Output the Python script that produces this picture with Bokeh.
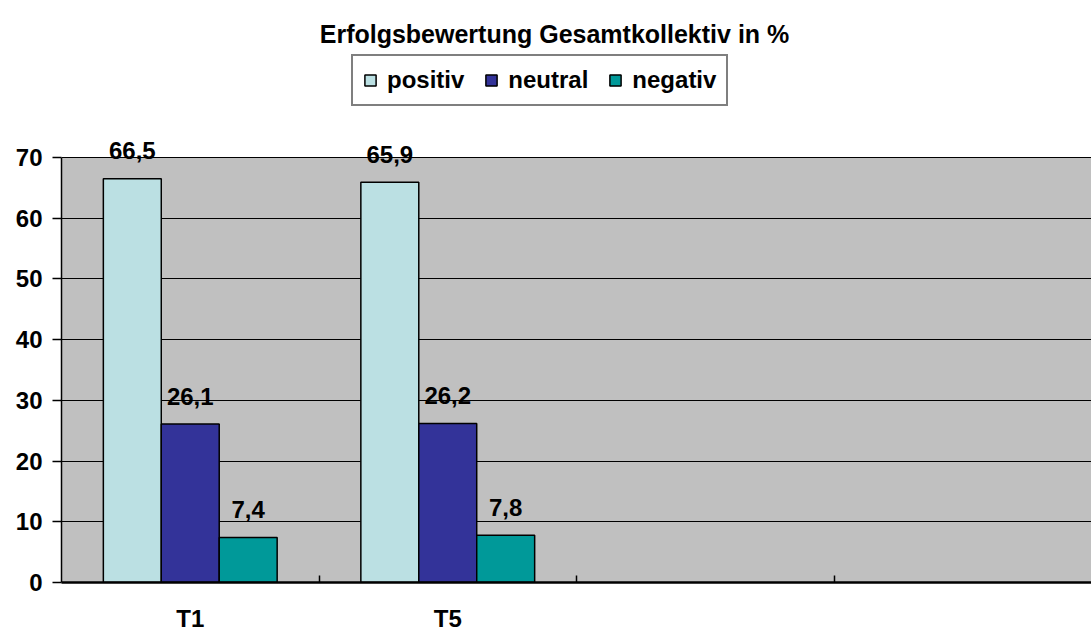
from bokeh.plotting import figure
from bokeh.models import (ColumnDataSource, FixedTicker, Legend, LegendItem, Range1d, Label,
                          BoxAnnotation)
from bokeh.layouts import column
from bokeh.transform import dodge
from bokeh.core.properties import value
from bokeh.embed import file_html
from bokeh.resources import INLINE

categories = ["T1", "T5"]
positiv = [66.5, 65.9]
neutral = [26.1, 26.2]
negativ = [7.4, 7.8]
series_names = ["positiv", "neutral", "negativ"]
colors = ["#BBE0E3", "#333399", "#009999"]
y_ticks = [0, 10, 20, 30, 40, 50, 60, 70]
y_max = 70
n_slots = 4
title_text = "Erfolgsbewertung Gesamtkollektiv in %"

FONT = "Liberation Sans"
FS = "24px"

# layout constants (pixels)
W, H = 1091, 634
HEADER_H = 120
FRAME_LEFT = 61
FRAME_TOP = 157      # y of value 70 on page
FRAME_BOTTOM = 583   # y of value 0 on page
px_per_unit = (FRAME_BOTTOM - FRAME_TOP) / y_max
y_end = y_max + (FRAME_TOP - HEADER_H) / px_per_unit

xs = [i + 0.5 for i in range(len(categories))]
src = ColumnDataSource(dict(
    x=xs,
    positiv=positiv, neutral=neutral, negativ=negativ,
    positiv_lbl=[f"{v:.1f}".replace(".", ",") for v in positiv],
    neutral_lbl=[f"{v:.1f}".replace(".", ",") for v in neutral],
    negativ_lbl=[f"{v:.1f}".replace(".", ",") for v in negativ],
))

# ---------- main chart ----------
p = figure(width=W, height=H - HEADER_H, output_backend="svg", toolbar_location=None,
           x_range=Range1d(0, n_slots), y_range=Range1d(0, y_end),
           min_border_left=FRAME_LEFT, min_border_right=0, min_border_top=0,
           min_border_bottom=H - FRAME_BOTTOM)
p.background_fill_color = "white"
p.border_fill_color = "white"
p.outline_line_color = None
p.add_layout(BoxAnnotation(bottom=0, top=y_max, fill_color="#C0C0C0", fill_alpha=1,
                           line_color=None, level="image"))

bw = 0.225
offsets = [-bw, 0.0, bw]
for name, col, off in zip(series_names, colors, offsets):
    p.vbar(x=dodge("x", off, range=p.x_range), top=name, width=bw, source=src,
           fill_color=col, line_color="black", line_width=1.5)
    p.text(x=dodge("x", off, range=p.x_range), y=name, text=name + "_lbl", source=src,
           text_font=value(FONT), text_font_style="bold", text_font_size=FS,
           text_align="center", text_baseline="alphabetic", y_offset=-28, text_color="black")

p.xgrid.grid_line_color = None
p.ygrid.grid_line_color = "black"
p.ygrid.grid_line_width = 1
p.ygrid.ticker = FixedTicker(ticks=y_ticks)

p.yaxis.ticker = FixedTicker(ticks=y_ticks)
p.yaxis.bounds = (0, y_max)
p.yaxis.axis_line_color = "black"
p.yaxis.axis_line_width = 1.5
p.yaxis.major_tick_out = 9
p.yaxis.major_tick_in = 0
p.yaxis.major_tick_line_width = 1.5
p.yaxis.minor_tick_line_color = None
p.yaxis.major_label_text_font = FONT
p.yaxis.major_label_text_font_style = "bold"
p.yaxis.major_label_text_font_size = FS
p.yaxis.major_label_text_color = "black"
p.yaxis.major_label_standoff = 10

p.xaxis.ticker = FixedTicker(ticks=xs, minor_ticks=[1, 2, 3])
p.xaxis.major_label_overrides = {x: c for x, c in zip(xs, categories)}
p.xaxis.major_tick_line_color = None
p.xaxis.major_tick_out = 0
p.xaxis.major_tick_in = 0
p.xaxis.minor_tick_in = 7
p.xaxis.minor_tick_out = 0
p.xaxis.minor_tick_line_width = 1.5
p.xaxis.minor_tick_line_color = "black"
p.xaxis.axis_line_color = "black"
p.xaxis.axis_line_width = 2.5
p.xaxis.major_label_text_font = FONT
p.xaxis.major_label_text_font_style = "bold"
p.xaxis.major_label_text_font_size = FS
p.xaxis.major_label_text_color = "black"
p.xaxis.major_label_standoff = 22

# ---------- header with title and legend ----------
h = figure(width=W, height=HEADER_H, output_backend="svg", toolbar_location=None,
           x_range=Range1d(FRAME_LEFT, W), y_range=Range1d(HEADER_H, 0),
           x_axis_type=None, y_axis_type=None,
           min_border_left=FRAME_LEFT, min_border_right=0, min_border_top=0, min_border_bottom=0)
h.outline_line_color = None
h.xgrid.grid_line_color = None
h.ygrid.grid_line_color = None
h.background_fill_color = "white"
h.border_fill_color = "white"

h.add_layout(Label(x=554, y=33, text=title_text, text_align="center", text_baseline="alphabetic",
                   text_font=FONT, text_font_style="bold", text_font_size="25px", text_color="black"))

items = []
for name, col in zip(series_names, colors):
    r = h.vbar(x="x", top=name, width=bw, source=src, visible=False,
               fill_color=col, line_color="black", line_width=1.5)
    items.append(LegendItem(label=name, renderers=[r]))

legend = Legend(items=items, orientation="horizontal", location=(351 - FRAME_LEFT, HEADER_H - 106),
                label_text_font=FONT, label_text_font_style="bold", label_text_font_size=FS,
                label_text_color="black", glyph_width=14, glyph_height=14,
                label_standoff=10, spacing=20, padding=10, margin=0,
                inactive_fill_alpha=0,
                border_line_color="black", border_line_width=2,
                background_fill_color="white", background_fill_alpha=1)
h.add_layout(legend, "center")

layout = column(h, p, spacing=0)
open("out.html", "w").write(file_html(layout, INLINE))
